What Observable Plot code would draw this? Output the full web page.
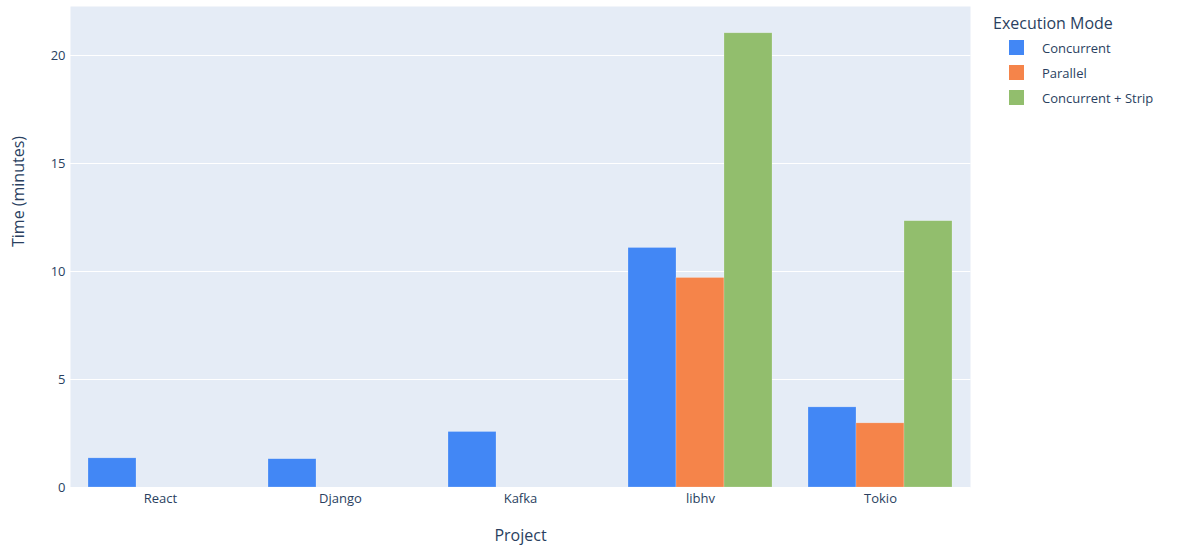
<!DOCTYPE html>
<html><head><meta charset="utf-8">
<script src="https://cdn.jsdelivr.net/npm/d3@7"></script>
<script src="https://cdn.jsdelivr.net/npm/@observablehq/plot@0.6"></script>
<style>
body{margin:0;background:#fff;font-family:"Open Sans",sans-serif;}
#wrap{position:relative;width:1182px;height:548px;}
#legend{position:absolute;left:993px;top:12px;color:#2a3f5f;}
#legend .title{font-size:16px;line-height:22px;margin-bottom:1px;}
#legend .item{display:flex;align-items:center;height:25px;font-size:13px;}
#legend .sw{width:15px;height:15px;margin-left:16px;margin-right:18px;}
</style></head><body><div id="wrap"></div>
<script>
const projects = ["React", "Django", "Kafka", "libhv", "Tokio"];
const modes = ["Concurrent", "Parallel", "Concurrent + Strip"];
const concurrent = [1.35, 1.31, 2.57, 11.09, 3.71];
const parallel = [null, null, null, 9.70, 2.97];
const strip = [null, null, null, 21.03, 12.33];
const colors = ["#4287f5", "#f5844a", "#92be6d"];
const yTicks = [0, 5, 10, 15, 20];
const yMax = 22.27;
const xTitle = "Project";
const yTitle = "Time (minutes)";
const legendTitle = "Execution Mode";

const series = [concurrent, parallel, strip];
const data = [];
projects.forEach((p, i) => {
  series.forEach((s, j) => {
    if (s[i] != null) data.push({project: p, mode: modes[j], value: s[i]});
  });
});

const chart = Plot.plot({
  width: 1182,
  height: 548,
  marginLeft: 68,
  marginRight: 210,
  marginTop: 6,
  marginBottom: 61,
  style: {fontFamily: '"Open Sans", sans-serif', fontSize: "13px", color: "#2a3f5f", background: "white"},
  fx: {domain: projects, padding: 0, label: null},
  x: {domain: modes, paddingInner: 0, paddingOuter: 0.375, axis: null},
  y: {domain: [0, yMax], label: null},
  color: {domain: modes, range: colors},
  marks: [
    Plot.frame({fill: "#e5ecf6", stroke: null, facet: "super"}),
    Plot.ruleY(yTicks, {stroke: "white", strokeWidth: 1, insetLeft: -0.5, insetRight: -0.5}),
    Plot.barY(data, {fx: "project", x: "mode", y: "value", fill: "mode", stroke: "white", strokeOpacity: 0.35, strokeWidth: 0.6}),
    Plot.axisY({ticks: yTicks, tickSize: 0, tickPadding: 5, label: null, fontSize: 13, fill: "#2a3f5f"}),
    Plot.axisFx({anchor: "bottom", tickSize: 0, tickPadding: 6, label: null, fontSize: 13, fill: "#2a3f5f"}),
    Plot.text([yTitle], {frameAnchor: "left", dx: -52, rotate: -90, text: d => d, fontSize: 16, fill: "#2a3f5f", facet: "super"}),
    Plot.text([xTitle], {frameAnchor: "bottom", dy: 53, text: d => d, fontSize: 16, fill: "#2a3f5f", facet: "super"})
  ]
});

const wrap = document.getElementById("wrap");
wrap.appendChild(chart);

const legend = document.createElement("div");
legend.id = "legend";
const t = document.createElement("div");
t.className = "title";
t.textContent = legendTitle;
legend.appendChild(t);
modes.forEach((m, i) => {
  const it = document.createElement("div");
  it.className = "item";
  const sw = document.createElement("span");
  sw.className = "sw";
  sw.style.background = colors[i];
  const lb = document.createElement("span");
  lb.textContent = m;
  it.appendChild(sw);
  it.appendChild(lb);
  legend.appendChild(it);
});
wrap.appendChild(legend);
</script>
</body></html>
